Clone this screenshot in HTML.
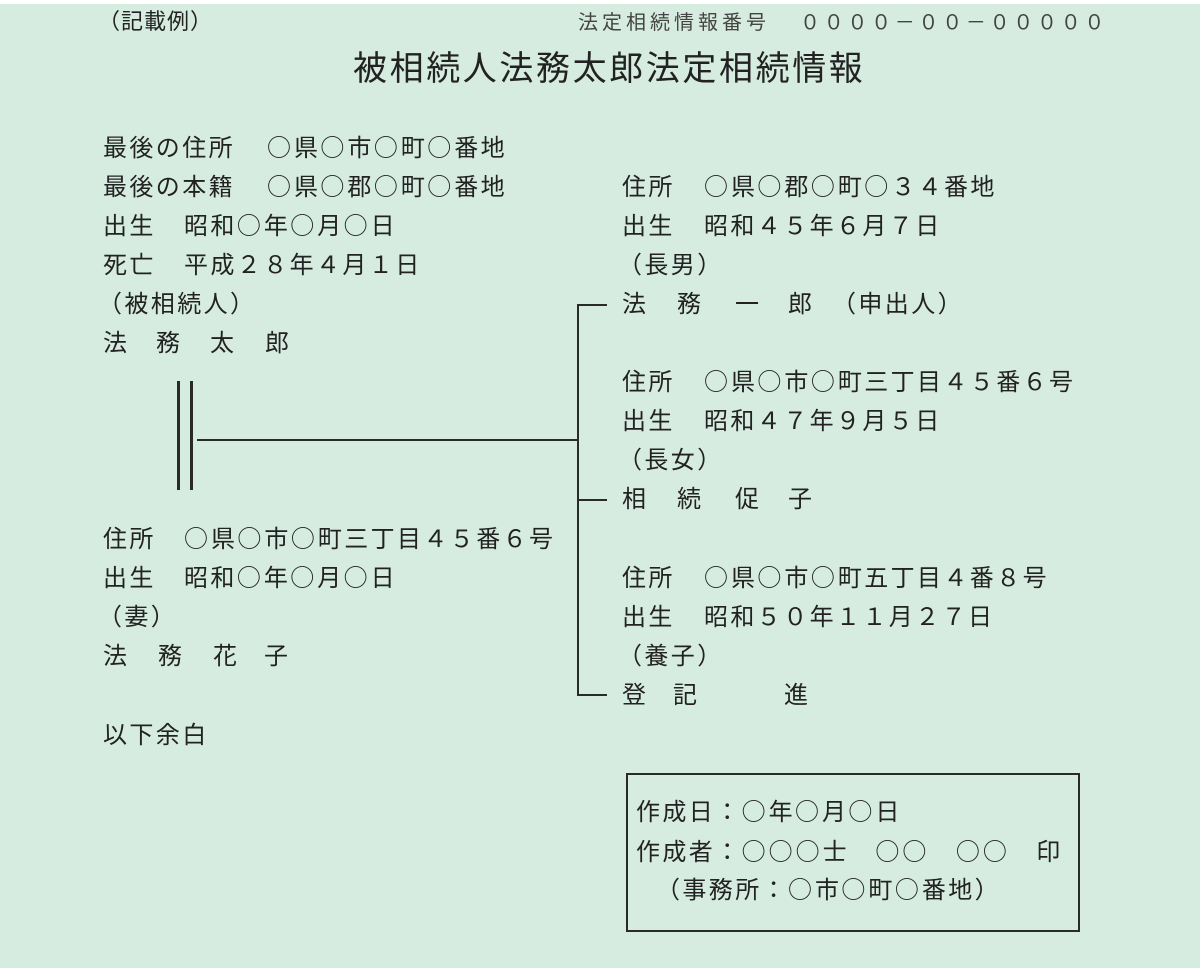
<!DOCTYPE html>
<html><head><meta charset="utf-8"><style>
html,body{margin:0;padding:0}
body{width:1200px;height:968px;background:#d6ece0;position:relative;overflow:hidden;font-family:"Liberation Sans","Noto Sans CJK JP",sans-serif;color:#222}
.t{position:absolute;font-size:24px;line-height:28px;letter-spacing:2.4px;white-space:pre}
.c{font-family:"Noto Sans CJK JP",sans-serif;line-height:0;letter-spacing:3px}
.l{position:absolute;background:#2a2a2a}
</style></head><body>
<div style="position:absolute;left:0;top:0;width:1200px;height:4px;background:#fff"></div>
<div class="t" style="left:98px;top:8px;font-size:22px;letter-spacing:1px">（記載例）</div>
<div class="t" style="left:578px;top:9px;font-size:20px;letter-spacing:4px;color:#444">法定相続情報番号</div>
<div class="t" style="left:800px;top:9px;font-size:20px;letter-spacing:3.7px;color:#444">００００－００－０００００</div>
<div class="t" style="left:353px;top:49px;font-size:34px;line-height:40px;letter-spacing:2.6px">被相続人法務太郎法定相続情報</div>

<div class="t" style="left:103px;top:135px">最後の住所</div><div class="t" style="left:267px;top:135px"><span class="c">○</span>県<span class="c">○</span>市<span class="c">○</span>町<span class="c">○</span>番地</div>
<div class="t" style="left:103px;top:174px">最後の本籍</div><div class="t" style="left:267px;top:174px"><span class="c">○</span>県<span class="c">○</span>郡<span class="c">○</span>町<span class="c">○</span>番地</div>
<div class="t" style="left:103px;top:213px">出生</div><div class="t" style="left:184px;top:213px">昭和<span class="c">○</span>年<span class="c">○</span>月<span class="c">○</span>日</div>
<div class="t" style="left:103px;top:252px">死亡</div><div class="t" style="left:184px;top:252px">平成２８年４月１日</div>
<div class="t" style="left:98px;top:291px">（被相続人）</div>
<div class="t" style="left:103px;top:330px">法</div><div class="t" style="left:156px;top:330px">務</div><div class="t" style="left:210px;top:330px">太</div><div class="t" style="left:265px;top:330px">郎</div>

<div class="t" style="left:103px;top:526px">住所</div><div class="t" style="left:184px;top:526px"><span class="c">○</span>県<span class="c">○</span>市<span class="c">○</span>町三丁目４５番６号</div>
<div class="t" style="left:103px;top:565px">出生</div><div class="t" style="left:184px;top:565px">昭和<span class="c">○</span>年<span class="c">○</span>月<span class="c">○</span>日</div>
<div class="t" style="left:98px;top:604px">（妻）</div>
<div class="t" style="left:103px;top:643px">法</div><div class="t" style="left:158px;top:643px">務</div><div class="t" style="left:213px;top:643px">花</div><div class="t" style="left:264px;top:643px">子</div>
<div class="t" style="left:103px;top:722px">以下余白</div>

<div class="t" style="left:622px;top:174px">住所</div><div class="t" style="left:704px;top:174px"><span class="c">○</span>県<span class="c">○</span>郡<span class="c">○</span>町<span class="c">○</span>３４番地</div>
<div class="t" style="left:622px;top:213px">出生</div><div class="t" style="left:704px;top:213px">昭和４５年６月７日</div>
<div class="t" style="left:618px;top:252px">（長男）</div>
<div class="t" style="left:622px;top:291px">法</div><div class="t" style="left:677px;top:291px">務</div><div class="t" style="left:735px;top:291px">一</div><div class="t" style="left:788px;top:291px">郎</div><div class="t" style="left:832px;top:291px">（申出人）</div>

<div class="t" style="left:622px;top:369px">住所</div><div class="t" style="left:704px;top:369px"><span class="c">○</span>県<span class="c">○</span>市<span class="c">○</span>町三丁目４５番６号</div>
<div class="t" style="left:622px;top:408px">出生</div><div class="t" style="left:704px;top:408px">昭和４７年９月５日</div>
<div class="t" style="left:618px;top:447px">（長女）</div>
<div class="t" style="left:622px;top:486px">相</div><div class="t" style="left:677px;top:486px">続</div><div class="t" style="left:735px;top:486px">促</div><div class="t" style="left:788px;top:486px">子</div>

<div class="t" style="left:622px;top:565px">住所</div><div class="t" style="left:704px;top:565px"><span class="c">○</span>県<span class="c">○</span>市<span class="c">○</span>町五丁目４番８号</div>
<div class="t" style="left:622px;top:604px">出生</div><div class="t" style="left:704px;top:604px">昭和５０年１１月２７日</div>
<div class="t" style="left:618px;top:643px">（養子）</div>
<div class="t" style="left:622px;top:682px">登</div><div class="t" style="left:673px;top:682px">記</div><div class="t" style="left:784px;top:682px">進</div>

<div class="l" style="left:177px;top:381px;width:3px;height:109px"></div>
<div class="l" style="left:190px;top:381px;width:3px;height:109px"></div>
<div class="l" style="left:197px;top:439px;width:382px;height:2px"></div>
<div class="l" style="left:577px;top:304px;width:2px;height:392px"></div>
<div class="l" style="left:577px;top:304px;width:30px;height:2px"></div>
<div class="l" style="left:577px;top:499px;width:30px;height:2px"></div>
<div class="l" style="left:577px;top:694px;width:30px;height:2px"></div>

<div style="position:absolute;left:626px;top:773px;width:450px;height:155px;border:2px solid #2a2a2a"></div>
<div class="t" style="left:636px;top:799px">作成日：<span class="c">○</span>年<span class="c">○</span>月<span class="c">○</span>日</div>
<div class="t" style="left:636px;top:839px">作成者：<span class="c">○○○</span>士　<span class="c">○○</span>　<span class="c">○○</span>　印</div>
<div class="t" style="left:656px;top:877px">（事務所：<span class="c">○</span>市<span class="c">○</span>町<span class="c">○</span>番地）</div>
</body></html>
